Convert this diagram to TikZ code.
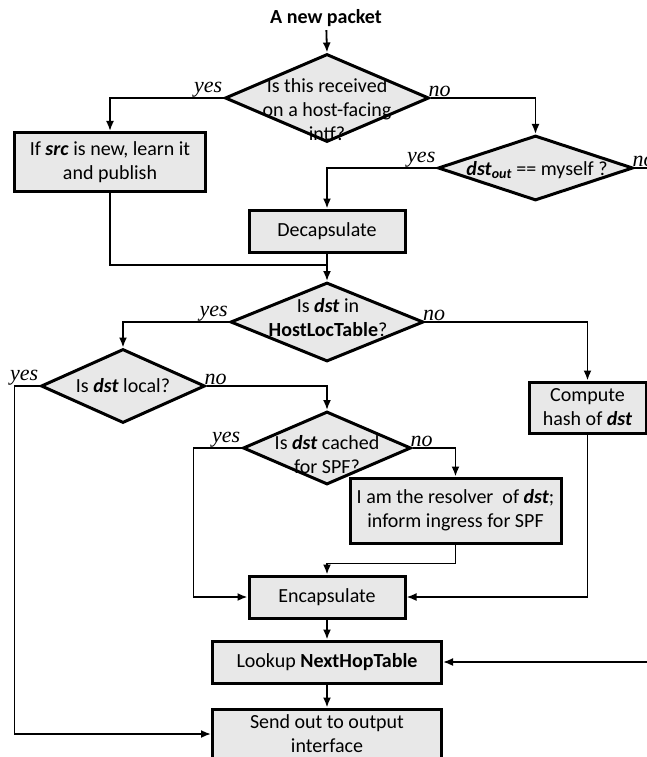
\documentclass[tikz,border=0pt]{standalone}
\usepackage{fontspec}
\setmainfont{Carlito}
\newfontfamily\ansfont{Liberation Serif}
\usetikzlibrary{arrows.meta,shapes.geometric}
\definecolor{boxgray}{RGB}{232,232,232}
\newcommand{\dst}{\textbf{\textit{dst}}}

\begin{document}
\begin{tikzpicture}[x=1pt,y=-1pt,
        >={Latex[length=10pt,width=8pt]},
        font=\fontsize{20}{24}\selectfont,
        proc/.style={draw, line width=3pt, fill=boxgray, rectangle, inner sep=0pt, align=center},
        decide/.style={draw, line width=3pt, fill=boxgray, diamond, inner sep=0pt},
        dtext/.style={align=center, inner sep=0pt},
        ans/.style={font=\ansfont\itshape\fontsize{22}{24}\selectfont, inner sep=1pt},
        flow/.style={line width=1.8pt}]
        \useasboundingbox (0,0) rectangle (647,757);
        \clip (0,0) rectangle (647,757);

        \node[font=\fontsize{20}{24}\selectfont\bfseries] (start) at (326,18) {A new packet};

        \node[decide, minimum width=204pt, minimum height=88pt] (d1) at (327,98) {};
        \node[dtext] (d1t) at (327,110) {Is this received\\on a host-facing\\intf?};
        \node[proc, minimum width=191pt, minimum height=59pt] (learn) at (110,162) {If \textbf{\textit{src}} is new, learn it\\and publish};

        \node[decide, minimum width=195pt, minimum height=65pt] (d2) at (535.5,168) {};
        \node[dtext] (d2t) at (537,170) {\dst\textbf{\textit{\textsubscript{out}}} == myself ?};
        \node[proc, minimum width=156pt, minimum height=42pt] (decap) at (327,231) {Decapsulate};
        \coordinate (join) at (327,265);

        \node[decide, minimum width=193pt, minimum height=79pt] (d3) at (327,322) {};
        \node[dtext] (d3t) at (328,318) {Is \dst{} in\\\textbf{HostLocTable}?};

        \node[decide, minimum width=164pt, minimum height=74pt] (d4) at (123,386) {};
        \node[dtext] (d4t) at (123,386) {Is \dst{} local?};
        \node[proc, minimum width=117pt, minimum height=51pt] (hash) at (587.5,407.5) {Compute\\hash of \dst};

        \node[decide, minimum width=168pt, minimum height=73pt] (d5) at (327,448) {};
        \node[dtext] (d5t) at (327,455) {Is \dst{} cached\\for SPF?};
        \node[proc, minimum width=211pt, minimum height=65pt] (resolver) at (455.5,510.5) {I am the resolver\ \ of \dst;\\inform ingress for SPF};

        \node[proc, minimum width=156pt, minimum height=42pt] (encap) at (327,597) {Encapsulate};
        \node[proc, minimum width=229pt, minimum height=42pt] (lookup) at (327,662) {Lookup \textbf{NextHopTable}};
        \node[proc, minimum width=229pt, minimum height=50pt] (send) at (327,734) {Send out to output\\interface};

        % yes / no answers
        \node[ans, anchor=south east] (y1) at (d1.west) {yes};
        \node[ans, anchor=south west, xshift=-3pt] (n1) at (d1.east) {no};
        \node[ans, anchor=south east] (y2) at (d2.west) {yes};
        \node[ans, anchor=south west, xshift=-3pt] (n2) at (d2.east) {no};
        \node[ans, anchor=south east] (y3) at (d3.west) {yes};
        \node[ans, anchor=south west, xshift=-3pt] (n3) at (d3.east) {no};
        \node[ans, anchor=south east] (y4) at (d4.west) {yes};
        \node[ans, anchor=south west, xshift=-3pt] (n4) at (d4.east) {no};
        \node[ans, anchor=south east] (y5) at (d5.west) {yes};
        \node[ans, anchor=south west, xshift=-3pt] (n5) at (d5.east) {no};

        \draw[flow,->] (start) -- (d1.north);
        \draw[flow,->] (d1.west) -| (learn.north);
        \draw[flow,->] (d1.east) -| (d2.north);
        \draw[flow,->] (d2.west) -| (decap.north);
        \draw[flow,->] (d2.east) -- ++(30,0) |- (lookup.east);
        \draw[flow] (learn.south) |- (join);
        \draw[flow,->] (decap.south) -- (d3.north);
        \draw[flow,->] (d3.west) -| (d4.north);
        \draw[flow,->] (d3.east) -| (hash.north);
        \draw[flow,->] (d4.west) -- ++(-25,0) |- (send.west);
        \draw[flow,->] (d4.east) -| (d5.north);
        \draw[flow,->] (d5.east) -| (resolver.north);
        \draw[flow,->] (d5.west) -- ++(-48,0) |- (encap.west);
        \draw[flow,->] (resolver.south) -- ++(0,19) -| (encap.north);
        \draw[flow,->] (hash.south) |- (encap.east);
        \draw[flow,->] (encap) -- (lookup);
        \draw[flow,->] (lookup) -- (send);
    \end{tikzpicture}
\end{document}
